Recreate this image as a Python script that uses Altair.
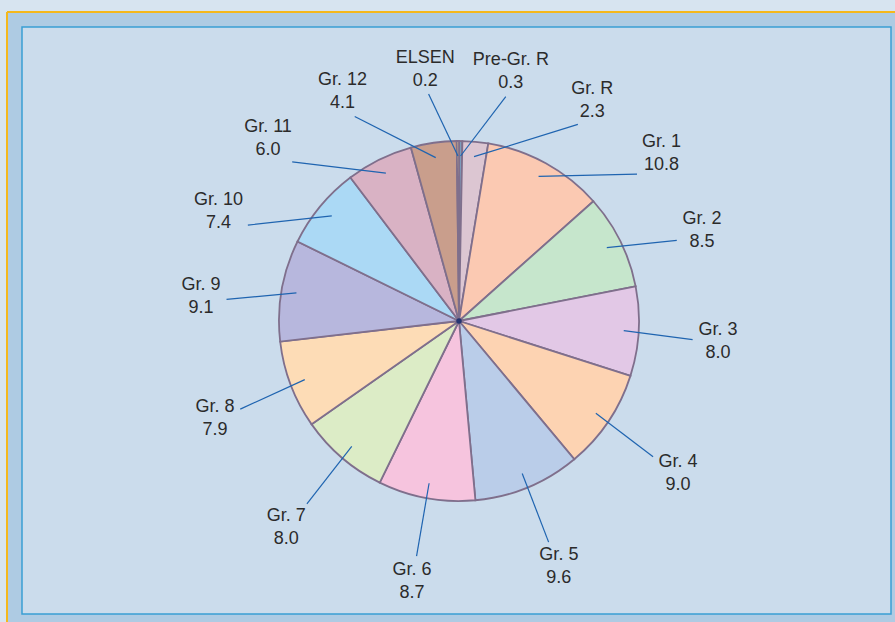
import math
import altair as alt
import pandas as pd

# Learner share (%) by grade, clockwise from the top of the pie
grades = ["Pre-Gr. R", "Gr. R", "Gr. 1", "Gr. 2", "Gr. 3", "Gr. 4", "Gr. 5",
          "Gr. 6", "Gr. 7", "Gr. 8", "Gr. 9", "Gr. 10", "Gr. 11", "Gr. 12", "ELSEN"]
shares = [0.3, 2.3, 10.8, 8.5, 8.0, 9.0, 9.6, 8.7, 8.0, 7.9, 9.1, 7.4, 6.0, 4.1, 0.2]
slice_colors = ["#7d9cbc", "#dcc6d2", "#fbc9b2", "#c6e6cc", "#e2c8e6", "#fdd3b2",
                "#bacde9", "#f6c4de", "#dcecc6", "#fddcb6", "#b7b7dd", "#abd9f5",
                "#d9b2c4", "#c99e8c", "#f2d98e"]

# Layout (pixels)
W, H = 895, 622
CX, CY = 459, 321
R = 180
R_IN = 165
RING_CY, R_OUT = CY + 5, 234   # ring on which leader lines end
FONT_SIZE, LINE_H = 18, 23
CHAR_W = 8.6          # approximate glyph advance at FONT_SIZE
HALF_H = 21           # half height of a two-line label block
PAD = 4
MIN_GAP = 19.0        # minimum angular spacing between labels, degrees

total = sum(shares)
mids = []
acc = 0.0
for v in shares:
    mid = (acc + v / 2) / total * 360.0
    mids.append(mid if mid <= 180 else mid - 360)
    acc += v

# Spread labels: merge crowded neighbours into clusters centred on their mean angle
order = sorted(range(len(mids)), key=lambda i: mids[i])
clusters = [[i] for i in order]


def positions(cl):
    m = sum(mids[i] for i in cl) / len(cl)
    n = len(cl)
    return [m + (k - (n - 1) / 2) * MIN_GAP for k in range(n)]


changed = True
while changed:
    changed = False
    for j in range(len(clusters) - 1):
        a, b = clusters[j], clusters[j + 1]
        if positions(a)[-1] + MIN_GAP > positions(b)[0]:
            clusters[j] = a + b
            del clusters[j + 1]
            changed = True
            break

label_ang = [0.0] * len(mids)
for cl in clusters:
    for i, p in zip(cl, positions(cl)):
        label_ang[i] = p


def pt(r, deg, cy=CY):
    t = math.radians(deg)
    return CX + r * math.sin(t), cy - r * math.cos(t)


rows = []
for i, (g, v) in enumerate(zip(grades, shares)):
    val = f"{v:.1f}"
    x1, y1 = pt(R_IN, mids[i])
    x2, y2 = pt(R_OUT, label_ang[i], RING_CY)
    # push the label block outward until its box clears the leader end
    s = math.sin(math.radians(label_ang[i]))
    c = math.cos(math.radians(label_ang[i]))
    half_w = CHAR_W * max(len(g), len(val)) / 2
    t = min(half_w / max(abs(s), 1e-6), HALF_H / max(abs(c), 1e-6)) + PAD
    xt = x2 + t * s
    # multi-line text is anchored on its first line: lift by half a line
    yt = y2 - t * c - LINE_H / 2
    rows.append(dict(idx=i, grade=g, share=v, txt=f"{g}\n{val}",
                     x1=x1, y1=y1, x2=x2, y2=y2, xt=xt, yt=yt))
df = pd.DataFrame(rows)

xs = alt.Scale(domain=[0, W], range=[0, W])
ys = alt.Scale(domain=[0, H], range=[0, H])
one = alt.Data(values=[{"k": 0}])

# Frame: outer band with orange edge, inner panel with blue border
band = alt.Chart(one).mark_rect(color="#aecbe3").encode(
    x=alt.value(7), x2=alt.value(W), y=alt.value(12), y2=alt.value(H))
edge_top = alt.Chart(one).mark_rule(color="#f5b81c", strokeWidth=2).encode(
    x=alt.value(7), x2=alt.value(W), y=alt.value(12))
edge_left = alt.Chart(one).mark_rule(color="#f5b81c", strokeWidth=2).encode(
    x=alt.value(7), y=alt.value(12), y2=alt.value(H))
panel = alt.Chart(one).mark_rect(fill="#cbdcec", stroke="#3a9fd3", strokeWidth=1.5).encode(
    x=alt.value(22), x2=alt.value(891), y=alt.value(27), y2=alt.value(614))

pie = alt.Chart(df).mark_arc(outerRadius=R, stroke="#7f6f8c", strokeWidth=1.8).encode(
    theta=alt.Theta("share:Q", stack=True),
    color=alt.Color("grade:N", scale=alt.Scale(domain=grades, range=slice_colors), legend=None),
    order=alt.Order("idx:Q"),
    x=alt.value(CX), y=alt.value(CY),
)

hub = alt.Chart(one).mark_point(filled=True, color="#1c2f6e", size=30, opacity=0.9).encode(
    x=alt.value(CX), y=alt.value(CY))

leaders = alt.Chart(df).mark_rule(color="#1f64b0", strokeWidth=1.2).encode(
    x=alt.X("x1:Q", scale=xs, axis=None), y=alt.Y("y1:Q", scale=ys, axis=None),
    x2="x2:Q", y2="y2:Q")

labels = alt.Chart(df).mark_text(
    lineBreak="\n", lineHeight=LINE_H, fontSize=FONT_SIZE, font="Liberation Sans",
    color="#2b2b2b", align="center", baseline="middle").encode(
    x=alt.X("xt:Q", scale=xs, axis=None), y=alt.Y("yt:Q", scale=ys, axis=None),
    text="txt:N")

chart = alt.layer(band, edge_top, edge_left, panel, pie, hub, leaders, labels).properties(
    width=W, height=H, padding=0, autosize=alt.AutoSizeParams(type="none"),
    background="#d7e4f0",
).configure_view(stroke=None)

chart.save("out.html", embed_options={"renderer": "svg", "actions": False})
